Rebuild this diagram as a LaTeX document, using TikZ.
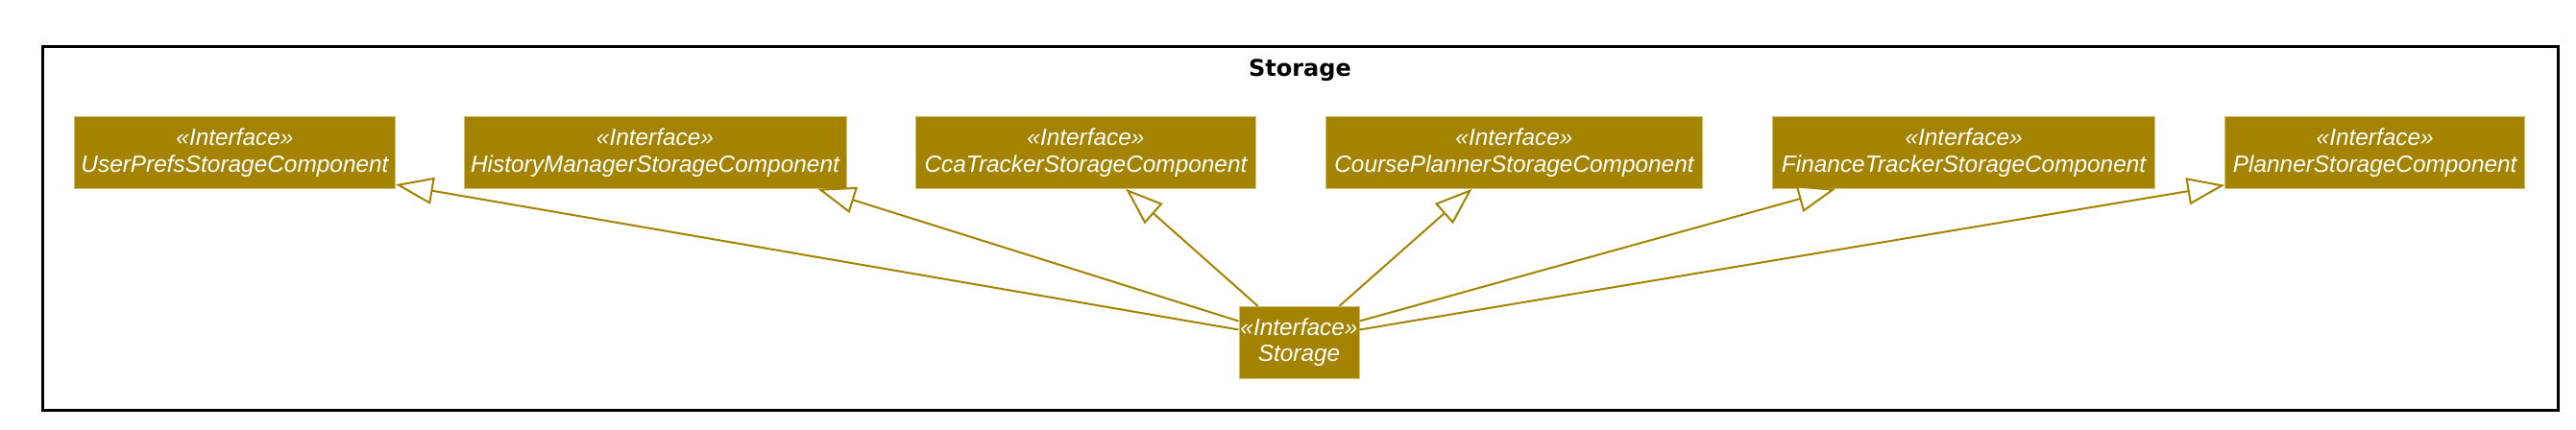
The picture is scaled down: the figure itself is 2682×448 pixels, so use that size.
\documentclass[tikz,border=0pt]{standalone}
\usepackage{fontspec}
\setmainfont{Liberation Sans}
\newfontfamily\titlefont{DejaVu Sans}
\usetikzlibrary{arrows.meta,calc}
\definecolor{gold}{HTML}{A38300}
\definecolor{goldedge}{HTML}{D2C072}
\tikzset{
  iface/.style={draw=goldedge, fill=gold, line width=0.5pt, text=white, inner sep=0pt,
    align=center, font=\itshape\fontsize{12.2}{13.85}\selectfont, minimum height=37.3pt},
  ed/.style={draw=gold, line width=1pt,
    -{Triangle[fill=white, length=19.5pt, width=14pt, line width=1pt]}},
  frame/.style={draw=black, line width=1.5pt},
}
\begin{document}
\begin{tikzpicture}[x=0.5pt, y=-0.5pt]
\useasboundingbox (0,0) rectangle (2682,448);
\draw[frame] (44,48.7) rectangle (2663,427.7);
\node[anchor=base, font=\titlefont\bfseries\fontsize{12}{14}\selectfont] (title) at (1353.5,80) {Storage};

\node[iface, minimum width=167pt] (up) at (244.5,159) {«Interface»\\UserPrefsStorageComponent};
\node[iface, minimum width=199pt] (hm) at (682,159) {«Interface»\\HistoryManagerStorageComponent};
\node[iface, minimum width=177.1pt] (cca) at (1130.5,159) {«Interface»\\CcaTrackerStorageComponent};
\node[iface, minimum width=196pt] (cp) at (1576.5,159) {«Interface»\\CoursePlannerStorageComponent};
\node[iface, minimum width=199pt] (ft) at (2044.6,159) {«Interface»\\FinanceTrackerStorageComponent};
\node[iface, minimum width=156pt] (pl) at (2472.7,159) {«Interface»\\PlannerStorageComponent};
\node[iface, minimum width=62.5pt, minimum height=37.5pt] (st) at (1352.5,356.8) {«Interface»\\Storage};

\draw[ed] ($(st.north west)+(0,24.7)$) -- ($(up.south east)+(0,-4.6)$);
\draw[ed] ($(st.north west)+(0,15.7)$) -- ($(hm.south east)+(-30,0)$);
\draw[ed] ($(st.north west)+(20,0)$) -- ($(cca.south east)+(-136,0)$);
\draw[ed] ($(st.north west)+(105,0)$) -- ($(cp.south west)+(152.5,0)$);
\draw[ed] ($(st.north east)+(0,15.7)$) -- ($(ft.south west)+(66,0)$);
\draw[ed] ($(st.north east)+(0,24.7)$) -- ($(pl.south west)+(0,-4)$);
\end{tikzpicture}
\end{document}
